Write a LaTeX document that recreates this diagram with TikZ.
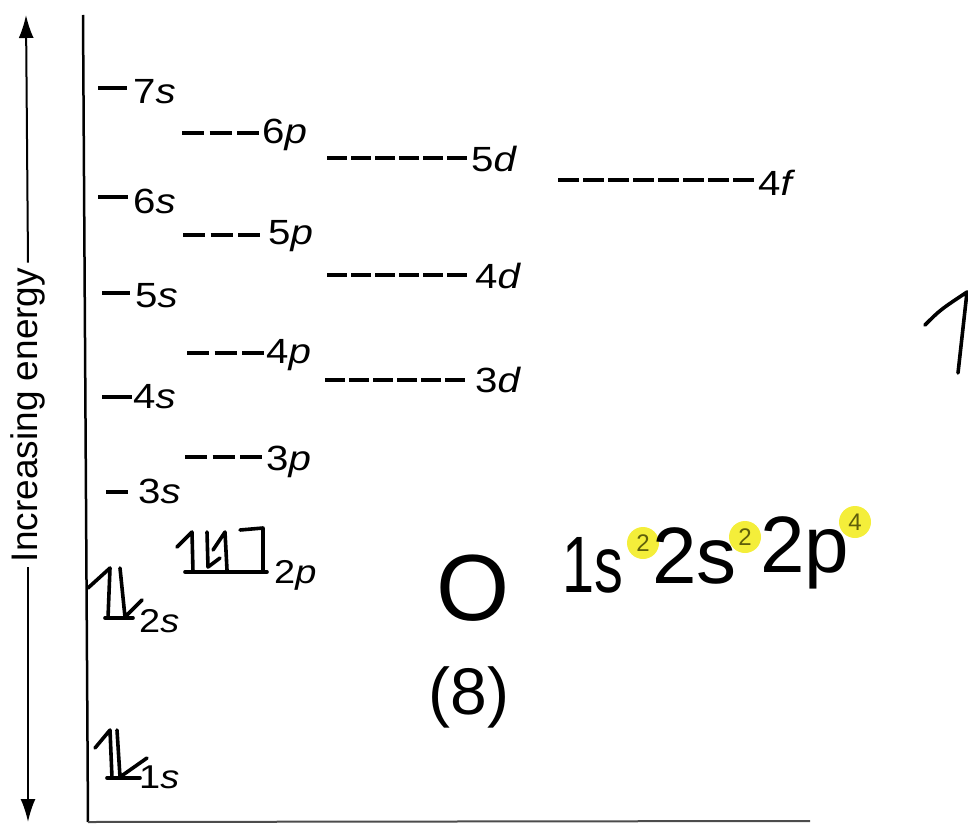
\documentclass[tikz,border=0pt]{standalone}
\usepackage{fontspec}
\usepackage{graphicx}
\setmainfont{Liberation Sans}
\usetikzlibrary{arrows.meta}
\definecolor{hlyellow}{RGB}{244,238,58}
\definecolor{supc}{RGB}{95,95,10}
\newcommand{\olab}[2]{\scalebox{1.15}[1]{#1\textit{#2}}}
\begin{document}
\begin{tikzpicture}[x=1pt,y=-1pt,
  lab/.style={anchor=base west,inner sep=0pt,font=\fontsize{35}{38}\selectfont},
  slab/.style={anchor=base west,inner sep=0pt,font=\fontsize{33}{36}\selectfont},
  sline/.style={line width=3.2pt},
  pline/.style={line width=3.2pt,dash pattern=on 22pt off 5.5pt},
  dline/.style={line width=3.2pt,dash pattern=on 20pt off 4pt},
  fline/.style={line width=3.2pt,dash pattern=on 21pt off 4pt},
  hand/.style={line width=3.6pt,line cap=round,line join=round},
  hw/.style={inner sep=0pt,font=\fontsize{80}{90}\selectfont},
  hlcirc/.style={circle,fill=hlyellow,inner sep=0pt,minimum size=32pt,font=\fontsize{24}{26}\selectfont,text=supc},
  earrow/.style={line width=2pt,-{Latex[length=23pt,width=15pt]}},
]
\useasboundingbox (0,0) rectangle (968,824);

% energy arrow
\coordinate (eTop) at (26,15);
\coordinate (eBot) at (28,822);
\node[rotate=90,inner sep=5pt,font=\fontsize{37}{40}\selectfont] (elab) at (28,415) {Increasing energy};
\draw[earrow] (elab.east) -- (eTop);
\draw[earrow] (elab.west) -- (eBot);

% axes
\coordinate (axTop) at (83,15);
\coordinate (axBot) at (88,822);
\coordinate (axEnd) at (810,821);
\draw[line width=2.5pt] (axTop) -- (axBot);
\draw[line width=2pt,black!70] (axBot) -- (axEnd);

% s levels
\draw[sline] (98,88) -- (127,88);   \node[lab] (n7s) at (133,103) {\olab{7}{s}};
\draw[sline] (98,197) -- (128,197); \node[lab] (n6s) at (133,213) {\olab{6}{s}};
\draw[sline] (102,293) -- (130,293);\node[lab] (n5s) at (135,307) {\olab{5}{s}};
\draw[sline] (102,397) -- (132,397);\node[lab] (n4s) at (133,408) {\olab{4}{s}};
\draw[sline] (106,492) -- (128,492);\node[lab] (n3s) at (138,503) {\olab{3}{s}};

% p levels
\draw[pline] (182,133) -- (259,133); \node[lab] (n6p) at (262,143) {\olab{6}{p}};
\draw[pline] (183,235) -- (260,235); \node[lab] (n5p) at (268,244) {\olab{5}{p}};
\draw[pline] (187,353) -- (264,353); \node[lab] (n4p) at (266,363) {\olab{4}{p}};
\draw[pline] (185,457) -- (262,457); \node[lab] (n3p) at (266,470) {\olab{3}{p}};

% d levels
\draw[dline] (327,158) -- (467,158); \node[lab] (n5d) at (471,171) {\olab{5}{d}};
\draw[dline] (327,275) -- (467,275); \node[lab] (n4d) at (475,288) {\olab{4}{d}};
\draw[dline] (325,380) -- (465,380); \node[lab] (n3d) at (475,392) {\olab{3}{d}};

% f level
\draw[fline] (558,180) -- (754,180); \node[lab] (n4f) at (758,195) {\olab{4}{f}};

% filled levels
\node[slab] (n2p) at (274,583) {\olab{2}{p}};
\node[slab] (n2s) at (139,632) {\olab{2}{s}};
\node[slab] (n1s) at (139,788) {\olab{1}{s}};

% handwritten electrons: 2s
\draw[hand] (88,588) -- (110,568) -- (108,618);
\draw[hand] (105,618) -- (133,618);
\draw[hand] (120,568) -- (125,617) -- (142,600);
% 1s
\draw[hand] (95,748) -- (110,730) -- (112,778);
\draw[hand] (107,778) -- (140,778);
\draw[hand] (117,730) -- (120,777) -- (147,758);
% 2p
\draw[hand] (177,547) -- (192,532) -- (193,572);
\draw[hand] (207,532) -- (208,567) -- (220,558);
\draw[hand] (213,550) -- (225,532) -- (227,570);
\draw[hand] (240,530) -- (263,528) -- (263,570);
\draw[hand] (185,572) -- (267,572);

% handwritten element and configuration
\node[inner sep=0pt,font=\fontsize{94}{100}\selectfont] (elO) at (473,588) {O};
\node[inner sep=0pt,font=\fontsize{66}{72}\selectfont] (elZ) at (469,697) {(8)};
\node[hw,anchor=base west] (c1) at (562,592) {\scalebox{0.72}[1]{1s}};
\node[hlcirc] (s1) at (643,543) {2};
\node[hw,anchor=base west] (c2) at (652,583) {2s};
\node[hlcirc] (s2) at (745,537) {2};
\node[hw,anchor=base west] (c3) at (760,572) {2p};
\node[hlcirc] (s3) at (855,522) {4};

% fragment at right edge
\draw[hand] (925,325) .. controls (940,310) .. (967,292) -- (958,373);
\end{tikzpicture}
\end{document}
